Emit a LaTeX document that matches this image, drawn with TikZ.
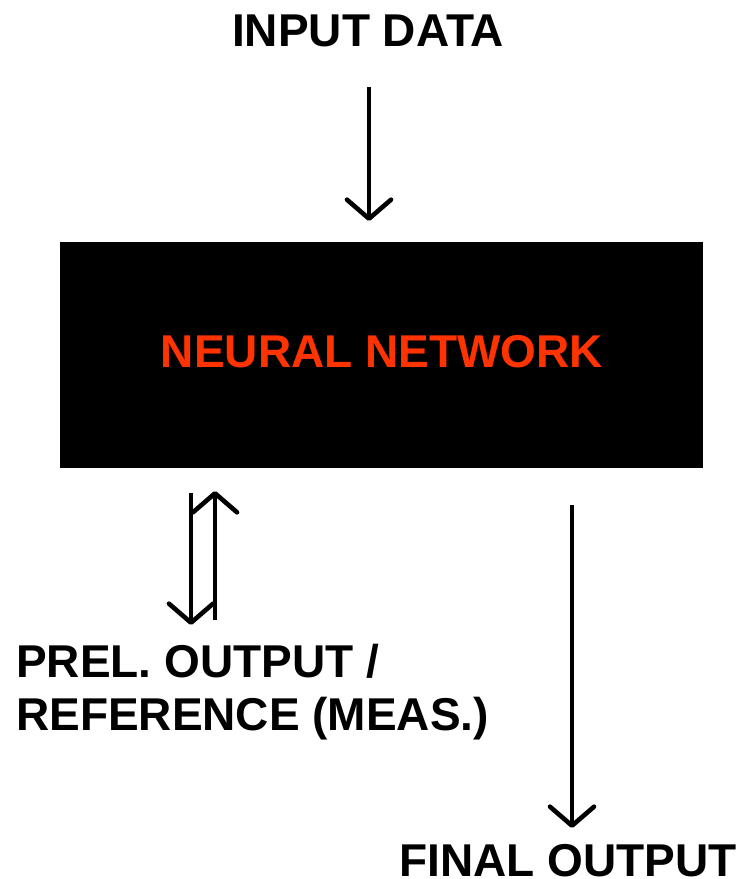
\documentclass[tikz,border=0pt]{standalone}
\usepackage{fontspec}
\setmainfont{Liberation Sans}
\usetikzlibrary{arrows.meta}
\definecolor{nnorange}{RGB}{255,51,0}
\begin{document}
\begin{tikzpicture}[x=1pt,y=-1pt,
  lbl/.style={inner sep=0pt,font=\fontsize{46}{50}\selectfont\bfseries},
  arr/.style={line width=4.6pt,-{Straight Barb[length=19pt,width=44pt,round]}},
  nnbox/.style={fill=black,draw=none,minimum width=643pt,minimum height=226pt,inner sep=0pt}]
\useasboundingbox (0,0) rectangle (740,879);
% box
\node[nnbox] (nn) at (381.5,355) {};
\node[lbl,text=nnorange,anchor=base] (nntext) at (382,367) {NEURAL NETWORK};
% labels
\node[lbl,anchor=base west] (inp) at (232,46) {INPUT DATA};
\node[lbl,anchor=base west] (prel1) at (16,677) {PREL. OUTPUT /};
\node[lbl,anchor=base west] (prel2) at (16,730) {REFERENCE (MEAS.)};
\node[lbl,anchor=base west] (fin) at (399,876) {FINAL OUTPUT};
% coordinates
\coordinate (inA) at (369,87);
\coordinate (inB) at (369,221);
\coordinate (dnA) at (191,493);
\coordinate (dnB) at (191,625);
\coordinate (upA) at (215,620);
\coordinate (upB) at (215,491);
\coordinate (fA) at (572,505);
\coordinate (fB) at (572,828);
% arrows
\draw[arr] (inA) -- (inB);
\draw[arr] (dnA) -- (dnB);
\draw[arr] (upA) -- (upB);
\draw[arr] (fA) -- (fB);
\end{tikzpicture}
\end{document}
